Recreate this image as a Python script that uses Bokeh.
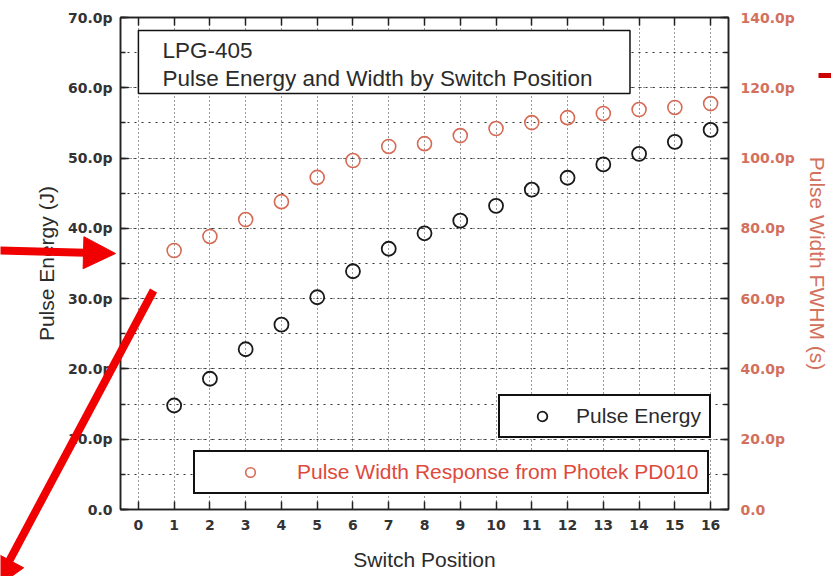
import numpy as np
from bokeh.plotting import figure
from bokeh.layouts import column
from bokeh.models import (LinearAxis, Range1d, SingleIntervalTicker, Legend, LegendItem,
                          BoxAnnotation, Label)
from bokeh.embed import file_html
from bokeh.resources import INLINE

# ---- data ----
switch_position = [1, 2, 3, 4, 5, 6, 7, 8, 9, 10, 11, 12, 13, 14, 15, 16]
pulse_energy_pJ = [14.8, 18.6, 22.8, 26.3, 30.2, 33.9, 37.1, 39.3, 41.1, 43.2,
                   45.5, 47.2, 49.1, 50.6, 52.3, 54.0]
pulse_width_ps = [73.7, 77.7, 82.5, 87.6, 94.5, 99.3, 103.3, 104.1, 106.4, 108.4,
                  110.1, 111.5, 112.7, 113.8, 114.4, 115.5]
left_ticks = [0, 10, 20, 30, 40, 50, 60, 70]
left_tick_labels = ["0.0", "10.0p", "20.0p", "30.0p", "40.0p", "50.0p", "60.0p", "70.0p"]
right_ticks = [0, 20, 40, 60, 80, 100, 120, 140]
right_tick_labels = ["0.0", "20.0p", "40.0p", "60.0p", "80.0p", "100.0p", "120.0p", "140.0p"]
title_lines = ["LPG-405", "Pulse Energy and Width by Switch Position"]

FONT = "Liberation Sans"
TICKFONT = "DejaVu Sans"
DARK = "#2b2b2b"
RED_MARK = "#d66a55"
RED_TICK = "#d3705c"
RED_TEXT = "#de4a3c"
ARROW_RED = "#f00000"

# layout (pixels)
W, H = 831, 576
B_LEFT, B_RIGHT, B_TOP, B_BOTTOM = 120, 100, 17, 67
X0, X1, Y0, Y1 = -0.5, 16.5, 0.0, 70.0
PX_X = (W - B_LEFT - B_RIGHT) / (X1 - X0)
PX_Y = (H - B_TOP - B_BOTTOM) / (Y1 - Y0)


def to_data(px, py):
    """canvas pixel -> data coordinates of the left axis"""
    return X0 + (px - B_LEFT) / PX_X, Y0 + ((H - B_BOTTOM) - py) / PX_Y


p = figure(width=W, height=H, output_backend="svg", toolbar_location=None,
           x_range=Range1d(X0, X1), y_range=Range1d(Y0, Y1),
           min_border_left=B_LEFT, min_border_right=B_RIGHT,
           min_border_top=B_TOP, min_border_bottom=B_BOTTOM,
           background_fill_color="white", border_fill_color="white")
p.frame_align = False
p.outline_line_color = "#111111"
p.outline_line_width = 1.5
p.extra_y_ranges = {"w": Range1d(0, 140)}

# ---- axes ----
xa = p.xaxis[0]
xa.ticker = SingleIntervalTicker(interval=1, num_minor_ticks=0)
xa.axis_label = "Switch Position"
ya = p.yaxis[0]
ya.ticker = SingleIntervalTicker(interval=10, num_minor_ticks=2)
ya.major_label_overrides = {t: l for t, l in zip(left_ticks, left_tick_labels)}
ya.axis_label = "Pulse Energy (J)"

ra = LinearAxis(y_range_name="w", ticker=SingleIntervalTicker(interval=20, num_minor_ticks=2))
ra.major_label_overrides = {t: l for t, l in zip(right_ticks, right_tick_labels)}
ra.axis_label = "Pulse Width FWHM (s)"
p.add_layout(ra, "right")

ta = LinearAxis(ticker=SingleIntervalTicker(interval=1, num_minor_ticks=0))
ta.major_label_text_color = None
ta.major_label_text_font_size = "1px"
ta.major_label_standoff = 0
p.add_layout(ta, "above")

for ax in [xa, ya, ra, ta]:
    ax.axis_line_color = "#222222"
    ax.axis_line_width = 1.5
    ax.major_tick_line_color = "#222222"
    ax.minor_tick_line_color = "#222222"
    ax.major_tick_line_width = 1.5
    ax.minor_tick_line_width = 1.5
    ax.major_tick_in = 8
    ax.major_tick_out = 0
    ax.minor_tick_in = 5
    ax.minor_tick_out = 0
    ax.axis_label_text_font = FONT
    ax.axis_label_text_font_style = "normal"
    ax.axis_label_text_font_size = "21px"
    ax.axis_label_text_color = DARK

for ax in [xa, ya, ra]:
    ax.major_label_text_font = TICKFONT
    ax.major_label_text_font_style = "bold"
    ax.major_label_text_font_size = "14px"
    ax.major_label_text_color = "#333333"

ya.major_label_standoff = 8
ya.axis_label_standoff = 7
xa.major_label_standoff = 10
xa.axis_label_standoff = 15
ra.major_label_standoff = 12
ra.major_label_text_color = RED_TICK
ra.axis_label_text_color = RED_TICK
ra.axis_label_standoff = 8

# ---- grids ----
p.xgrid.grid_line_color = "#333333"
p.xgrid.grid_line_dash = "1 3"
p.xgrid.grid_line_width = 1
p.ygrid.grid_line_color = "#333333"
p.ygrid.grid_line_dash = "1 2 1 6"
p.ygrid.grid_line_width = 1
p.ygrid.minor_grid_line_color = "#333333"
p.ygrid.minor_grid_line_dash = "2 5"
p.ygrid.minor_grid_line_width = 1

# ---- data glyphs ----
r_energy = p.scatter(switch_position, pulse_energy_pJ, marker="circle", size=14,
                     fill_color=None, line_color="#1a1a1a", line_width=1.8)
r_width = p.scatter(switch_position, pulse_width_ps, marker="circle", size=14,
                    fill_color=None, line_color=RED_MARK, line_width=1.6, y_range_name="w")

# ---- title box ----
bx0, by0 = to_data(138, 30)
bx1, by1 = to_data(632, 93)
p.add_layout(BoxAnnotation(left=bx0, right=bx1, top=by0, bottom=by1,
                           fill_color="white", fill_alpha=1.0,
                           line_color="#111111", line_alpha=1.0, line_width=1.5))
for i, line in enumerate(title_lines):
    p.add_layout(Label(x=bx0, y=by0, x_offset=24, y_offset=-20 - 28 * i, text=line,
                       text_font=FONT, text_font_size="22.5px", text_color=DARK,
                       text_baseline="middle", text_align="left"))

# ---- legends ----
leg1 = Legend(items=[LegendItem(label="Pulse Energy", renderers=[r_energy])],
              location=(378, 71), padding=8, margin=0, spacing=0,
              glyph_width=68, glyph_height=24, label_height=20, label_standoff=-1,
              label_text_font=FONT, label_text_font_size="21px", label_text_color=DARK,
              border_line_color="#111111", border_line_alpha=1.0, border_line_width=2,
              background_fill_color="white", background_fill_alpha=1.0)
leg2 = Legend(items=[LegendItem(label="Pulse Width Response from Photek PD010", renderers=[r_width])],
              location=(73, 15), padding=8, margin=0, spacing=0,
              glyph_width=94, glyph_height=24, label_height=20, label_standoff=-17,
              label_text_font=FONT, label_text_font_size="21px", label_text_color=RED_TEXT,
              border_line_color="#111111", border_line_alpha=1.0, border_line_width=2,
              background_fill_color="white", background_fill_alpha=1.0)
p.add_layout(leg1, "center")
p.add_layout(leg2, "center")

# ---- transparent overlay (canvas pixel coordinates) for the red call-out arrows ----
ov = figure(width=W, height=H, output_backend="svg", toolbar_location=None,
            x_range=Range1d(0, W), y_range=Range1d(H, 0),
            x_axis_type=None, y_axis_type=None, min_border=0,
            background_fill_color=None, border_fill_color=None,
            styles={"position": "absolute", "left": "0px", "top": "0px"})
ov.frame_align = False
ov.outline_line_color = None
ov.grid.visible = False

arrow_tails = [(-5, 250), (153, 290)]
arrow_tips = [(115, 253), (-6, 588)]
HEAD_LEN, HEAD_W = 32, 32
bx, by, hx, hy = [], [], [], []
for tail, tip in zip(arrow_tails, arrow_tips):
    t0 = np.array(tail, float)
    t1 = np.array(tip, float)
    d = (t1 - t0) / np.hypot(*(t1 - t0))
    n = np.array([-d[1], d[0]])
    base = t1 - d * HEAD_LEN
    body_end = base + d * 2
    bx.append([t0[0], body_end[0]])
    by.append([t0[1], body_end[1]])
    tri = [t1, base + n * HEAD_W / 2, base - n * HEAD_W / 2]
    hx.append([pt[0] for pt in tri])
    hy.append([pt[1] for pt in tri])

ov.multi_line(bx, by, line_color=ARROW_RED, line_width=8, line_cap="butt")
ov.patches(hx, hy, fill_color=ARROW_RED, line_color=ARROW_RED, line_width=1)
ov.segment(x0=[818], y0=[75], x1=[835], y1=[75], line_color="#cc0000", line_width=5)

layout = column(p, ov)
open("out.html", "w").write(file_html(layout, INLINE))
